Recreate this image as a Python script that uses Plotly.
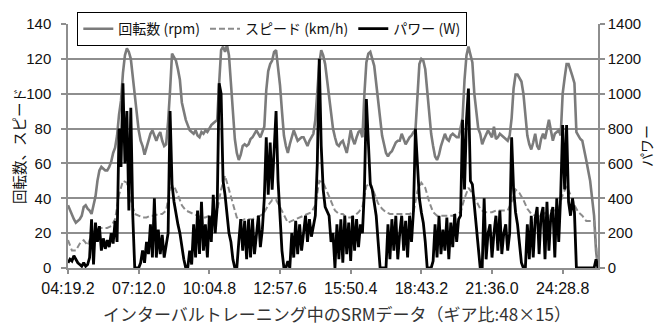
import plotly.graph_objects as go

# ---- data ----
tick_labels = ["04:19.2", "07:12.0", "10:04.8", "12:57.6",
               "15:50.4", "18:43.2", "21:36.0", "24:28.8"]

# cadence (rpm), one sample every 4.8 s
rpm = [36, 33, 31, 28, 26, 27, 28, 30, 35, 36,
       34, 33, 31, 36, 41, 50, 56, 58, 57, 56,
       56, 58, 61, 66, 69, 76, 88, 96, 112, 122,
       126, 124, 120, 109, 100, 90, 79, 73, 70, 65,
       69, 73, 77, 79, 76, 73, 76, 78, 73, 70,
       71, 84, 102, 123, 121, 119, 114, 108, 95, 90,
       85, 82, 79, 78, 77, 79, 76, 75, 78, 77,
       79, 78, 80, 82, 83, 84, 85, 106, 125, 127,
       124, 128, 122, 106, 88, 74, 66, 62, 65, 70,
       71, 70, 71, 74, 75, 77, 79, 77, 75, 78,
       81, 102, 113, 117, 119, 124, 125, 115, 105, 90,
       76, 70, 66, 71, 75, 79, 76, 73, 74, 75,
       75, 72, 70, 73, 75, 77, 85, 100, 117, 125,
       122, 117, 108, 99, 90, 80, 75, 71, 70, 72,
       73, 70, 66, 72, 79, 74, 71, 75, 78, 79,
       75, 100, 118, 123, 124, 120, 116, 106, 95, 83,
       76, 71, 66, 64, 66, 67, 70, 72, 73, 73,
       77, 74, 71, 73, 75, 76, 78, 79, 100, 117,
       120, 119, 114, 100, 88, 77, 70, 64, 62, 65,
       70, 74, 77, 74, 73, 76, 77, 76, 75, 75,
       80, 86, 108, 122, 127, 122, 118, 100, 90, 80,
       77, 71, 74, 77, 79, 77, 75, 81, 74, 75,
       77, 76, 75, 74, 73, 76, 86, 103, 111, 111,
       109, 107, 100, 86, 76, 71, 68, 72, 77, 70,
       68, 74, 77, 74, 80, 85, 79, 73, 77, 78,
       79, 76, 100, 109, 117, 117, 114, 110, 106, 78,
       76, 74, 73, 68, 62, 56, 50, 40, 30, 10,
       0]

# speed (km/h), one sample every 9.6 s
speed = [16, 10, 10, 14, 16, 13, 19, 22, 23, 23,
         23, 24, 28, 42, 50, 49, 39, 31, 30, 29,
         29, 30, 30, 31, 31, 33, 46, 47, 42, 36,
         33, 32, 31, 30, 29, 29, 30, 31, 33, 45,
         53, 45, 37, 29, 27, 28, 28, 28, 29, 30,
         32, 36, 39, 39, 35, 30, 26, 27, 28, 29,
         30, 31, 32, 36, 50, 49, 44, 38, 33, 31,
         31, 29, 29, 30, 32, 35, 47, 49, 43, 37,
         34, 32, 31, 31, 31, 31, 31, 31, 32, 44,
         49, 46, 38, 32, 30, 30, 30, 30, 30, 31,
         32, 40, 46, 43, 38, 34, 32, 32, 32, 33,
         33, 33, 33, 38, 45, 43, 39, 34, 31, 30,
         30, 31, 32, 33, 33, 34, 42, 47, 42, 36,
         32, 30, 27, 27, 27, 0]

# power (W), one sample every 4.8 s
power = [30, 50, 40, 70, 50, 30, 20, 10, 30, 10,
         20, 60, 280, 20, 260, 150, 240, 100, 170, 110,
         160, 120, 200, 140, 270, 150, 800, 580, 1060, 600,
         900, 330, 920, 300, 0, 0, 0, 30, 100, 30,
         150, 80, 250, 60, 400, 60, 220, 80, 190, 60,
         140, 200, 900, 480, 380, 300, 250, 200, 120, 50,
         0, 0, 100, 20, 250, 60, 330, 80, 380, 100,
         250, 60, 300, 150, 420, 200, 350, 1060, 1000, 500,
         420, 300, 200, 150, 50, 0, 0, 150, 280, 100,
         270, 50, 280, 60, 280, 80, 200, 300, 120, 220,
         400, 750, 420, 720, 450, 650, 900, 500, 300, 100,
         0, 0, 40, 0, 200, 60, 270, 80, 250, 100,
         200, 300, 150, 280, 180, 250, 300, 600, 1200, 700,
         450, 350, 320, 300, 150, 200, 0, 250, 50, 280,
         30, 300, 80, 260, 40, 300, 100, 280, 120, 250,
         200, 450, 970, 700, 480, 450, 380, 300, 150, 0,
         0, 0, 0, 250, 50, 280, 100, 300, 50, 200,
         300, 100, 270, 60, 300, 150, 330, 800, 600, 400,
         320, 260, 150, 0, 0, 0, 40, 250, 60, 300,
         80, 220, 100, 290, 50, 260, 120, 310, 150, 280,
         300, 850, 450, 850, 1030, 500, 480, 350, 250, 100,
         0, 0, 400, 50, 200, 250, 60, 200, 300, 100,
         330, 80, 200, 250, 100, 200, 750, 450, 320, 250,
         150, 30, 0, 0, 250, 50, 300, 60, 280, 350,
         80, 300, 350, 50, 380, 100, 300, 350, 60, 400,
         150, 420, 820, 450, 820, 380, 300, 400, 320, 0,
         0, 0, 0, 0, 0, 0, 0, 0, 0, 50,
         0]

rpm_step = 4.8     # seconds between cadence samples
speed_step = 9.6   # seconds between speed samples
power_step = 4.8   # seconds between power samples


def to_sec(s):
    m, r = s.split(":")
    return int(m) * 60 + float(r)


tick_vals = [to_sec(s) for s in tick_labels]
start = tick_vals[0]
t_rpm = [start + k * rpm_step for k in range(len(rpm))]
t_spd = [start + k * speed_step for k in range(len(speed))]
t_pow = [start + k * power_step for k in range(len(power))]
end = max(t_rpm[-1], t_spd[-1], t_pow[-1])

NUM = "Liberation Sans, Arial, sans-serif"
JP = "Noto Sans CJK JP, sans-serif"
GRID = "#8e8e8e"
TXT = "#111111"

fig = go.Figure()
fig.add_trace(go.Scatter(x=t_rpm, y=rpm, name="回転数 (rpm)", mode="lines",
                         line=dict(color="#7b7b7b", width=2.6)))
fig.add_trace(go.Scatter(x=t_spd, y=speed, name="スピード (km/h)", mode="lines",
                         line=dict(color="#8c8c8c", width=2, dash="6px,3px")))
fig.add_trace(go.Scatter(x=t_pow, y=power, name="パワー (W)", mode="lines",
                         line=dict(color="black", width=2.8), yaxis="y2"))

# the page adds an 8px body margin; size the figure so the plot lands where the reference has it
fig.update_layout(
    width=664, height=319, autosize=False,
    margin=dict(l=60, r=74, t=16, b=59, autoexpand=False),
    paper_bgcolor="white", plot_bgcolor="white",
    font=dict(family=NUM, size=15, color=TXT),
    showlegend=True,
    legend=dict(orientation="h", x=0.017, y=1.05, xanchor="left", yanchor="top",
                bgcolor="white", bordercolor="black", borderwidth=1.3,
                font=dict(family=JP, size=14, color=TXT),
                itemwidth=30, tracegroupgap=0),
    xaxis=dict(range=[start, end], tickmode="array", tickvals=tick_vals,
               ticktext=tick_labels, ticks="outside", ticklen=4, tickcolor=GRID,
               tickwidth=1.5, showgrid=False, zeroline=False, showline=True,
               linecolor=GRID, linewidth=1.5,
               tickfont=dict(family=NUM, size=16, color=TXT),
               ticklabelstandoff=1),
    yaxis=dict(range=[0, 140], dtick=20, ticks="outside", ticklen=5, tickcolor=GRID,
               tickwidth=1.5, showgrid=True, gridcolor=GRID, gridwidth=1.5,
               zeroline=False, showline=True, linecolor=GRID, linewidth=1.5,
               tickfont=dict(family=NUM, size=15, color=TXT), ticklabelstandoff=7,
               title=dict(text="回転数、スピード", standoff=2,
                          font=dict(family=JP, size=14.5, color=TXT))),
    yaxis2=dict(range=[0, 1400], dtick=200, overlaying="y", side="right",
                ticks="outside", ticklen=5, tickcolor=GRID, tickwidth=1.5,
                showgrid=False, zeroline=False, showline=True, linecolor=GRID,
                linewidth=1.5, tickfont=dict(family=NUM, size=15, color=TXT),
                title=dict(text="パワー", standoff=2,
                           font=dict(family=JP, size=14, color=TXT))),
    annotations=[dict(text="インターバルトレーニング中のSRMデータ（ギア比:48×15）",
                      x=0.5075, y=-0.186, xref="paper", yref="paper",
                      xanchor="center", yanchor="middle", showarrow=False,
                      font=dict(family=JP, size=17, color="#333"))],
)

fig.write_html("out.html")
